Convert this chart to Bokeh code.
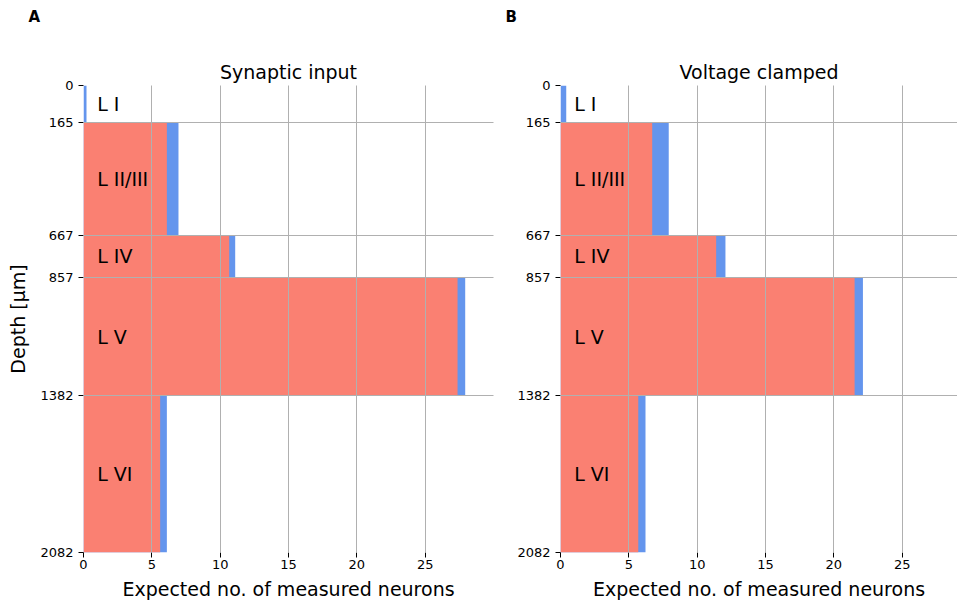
from bokeh.plotting import figure
from bokeh.layouts import row
from bokeh.models import Range1d, FixedTicker, Title, ColumnDataSource
from bokeh.core.properties import value
from bokeh.embed import file_html
from bokeh.resources import INLINE

layers = ["L I", "L II/III", "L IV", "L V", "L VI"]
boundaries = [0, 165, 667, 857, 1382, 2082]
synaptic_total = [0.22, 6.95, 11.1, 27.93, 6.1]
synaptic_part = [0.0, 6.1, 10.66, 27.37, 5.61]
voltage_total = [0.42, 7.92, 12.07, 22.13, 6.22]
voltage_part = [0.0, 6.71, 11.39, 21.52, 5.69]
x_ticks = [0, 5, 10, 15, 20, 25]
titles = ["Synaptic input", "Voltage clamped"]
letters = ["A", "B"]

FONT = "DejaVu Sans"
RED = "#FA8072"
BLUE = "#6495ED"
GRID = "#b0b0b0"

mids = [(boundaries[i] + boundaries[i + 1]) / 2 for i in range(len(layers))]
heights = [boundaries[i + 1] - boundaries[i] for i in range(len(layers))]


def make_panel(title, letter, total, part, xmax, border_left, frame_w, border_right, ylabel):
    p = figure(
        output_backend="svg", toolbar_location=None,
        frame_width=frame_w, frame_height=467,
        min_border_left=border_left, min_border_right=border_right,
        min_border_top=85, min_border_bottom=48,
        x_range=Range1d(0, xmax), y_range=Range1d(boundaries[-1], 0),
        title=letter,
    )
    p.outline_line_color = None
    p.background_fill_color = "white"
    p.border_fill_color = "white"
    # panel letter (outermost title)
    p.title.align = "left"
    p.title.vertical_align = "middle"
    p.title.offset = -55
    p.title.standoff = 11
    p.title.text_font = FONT
    p.title.text_font_size = "15px"
    p.title.text_font_style = "bold"
    p.title.text_color = "black"
    # main title (nearest the frame)
    p.add_layout(Title(text=title, align="center", standoff=6,
                       text_font=FONT, text_font_size="19px",
                       text_font_style="normal", text_color="black"), "above")
    # spacer between the main title and the panel letter
    p.add_layout(Title(text=" ", align="center", standoff=10,
                       text_font=FONT, text_font_size="10px"), "above")

    src = ColumnDataSource(dict(y=mids, h=heights, total=total, part=part,
                                label=layers, lx=[1] * len(layers)))
    p.hbar(y="y", height="h", left=0, right="total", source=src,
           fill_color=BLUE, line_color=None)
    p.hbar(y="y", height="h", left=0, right="part", source=src,
           fill_color=RED, line_color=None)
    p.text(x="lx", y="y", text="label", source=src, text_font=value(FONT),
           text_font_size="19px", text_align="left", text_baseline="middle",
           text_color="black")

    for ax in (p.xaxis, p.yaxis):
        ax.axis_line_color = None
        ax.major_tick_out = 5
        ax.major_tick_in = 0
        ax.minor_tick_line_color = None
        ax.major_tick_line_color = "black"
        ax.major_label_text_font = FONT
        ax.major_label_text_font_size = "13px"
        ax.major_label_text_color = "black"
        ax.axis_label_text_font = FONT
        ax.axis_label_text_font_size = "19px"
        ax.axis_label_text_font_style = "normal"
        ax.axis_label_text_color = "black"
    p.xaxis.ticker = FixedTicker(ticks=x_ticks)
    p.yaxis.ticker = FixedTicker(ticks=boundaries)
    p.xaxis.major_label_standoff = 2
    p.yaxis.major_label_standoff = 5
    p.xaxis.axis_label = "Expected no. of measured neurons"
    p.xaxis.axis_label_standoff = 6
    if ylabel:
        p.yaxis.axis_label = "Depth [µm]"
        p.yaxis.axis_label_standoff = 8

    p.xgrid.ticker = FixedTicker(ticks=x_ticks)
    p.ygrid.ticker = FixedTicker(ticks=boundaries)
    for g in (p.xgrid, p.ygrid):
        g.grid_line_color = GRID
        g.grid_line_width = 1
        g.level = "annotation"
    return p


p1 = make_panel(titles[0], letters[0], synaptic_total, synaptic_part,
                30.0, 83, 410, 5, True)
p2 = make_panel(titles[1], letters[1], voltage_total, voltage_part,
                29.05, 62, 397, 0, False)

layout = row(p1, p2)
open("out.html", "w").write(file_html(layout, INLINE))
